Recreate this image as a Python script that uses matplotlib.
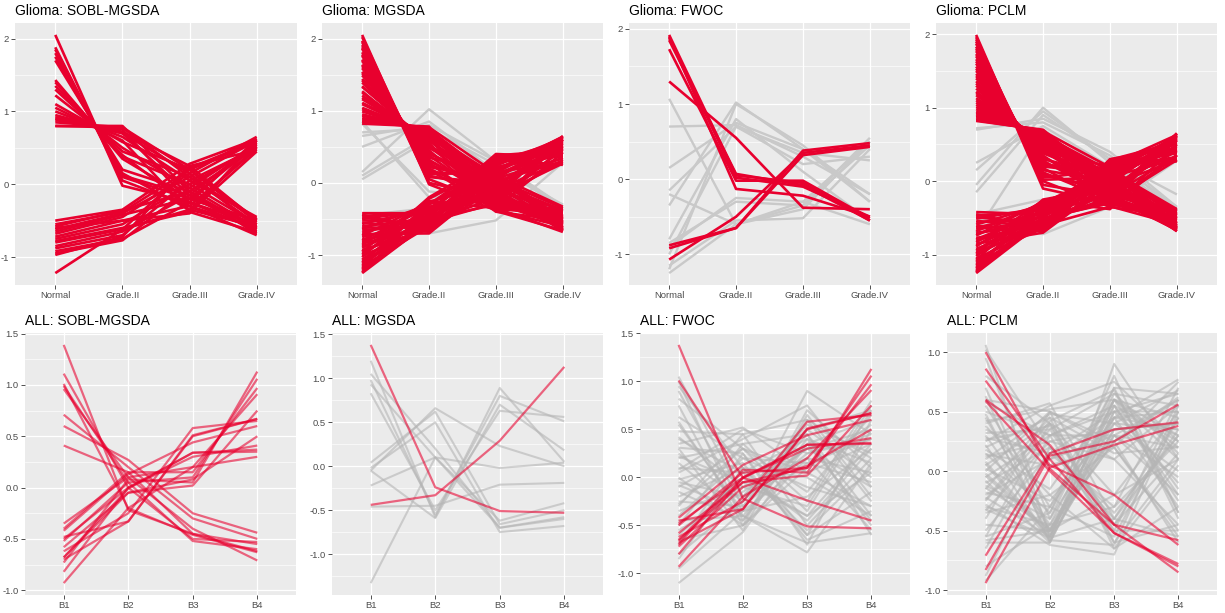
import matplotlib.pyplot as plt
from matplotlib.ticker import MultipleLocator

plt.rcParams['font.family'] = ['Liberation Sans', 'DejaVu Sans']
plt.rcParams['axes.unicode_minus'] = False

grades = ['Normal', 'Grade.II', 'Grade.III', 'Grade.IV']
blocks = ['B1', 'B2', 'B3', 'B4']

# ---- Glioma: SOBL-MGSDA (selected rows only) ----
g_sobl_red = [
    [2.05, -0.02, -0.25, -0.55], [1.88, 0.05, -0.30, -0.60], [1.85, 0.10, -0.20, -0.50],
    [1.80, 0.12, -0.15, -0.65], [1.75, 0.15, -0.35, -0.58], [1.70, 0.20, -0.10, -0.62],
    [1.43, 0.35, -0.20, -0.50], [1.40, 0.38, 0.00, -0.55], [1.35, 0.40, -0.30, -0.70],
    [1.30, 0.45, 0.10, -0.48], [1.22, 0.50, -0.05, -0.60], [1.10, 0.58, 0.20, -0.52],
    [1.05, 0.60, -0.38, -0.66], [1.00, 0.65, 0.05, -0.45], [0.95, 0.70, -0.15, -0.58],
    [0.92, 0.72, 0.25, -0.50], [0.88, 0.75, -0.25, -0.62], [0.85, 0.78, 0.10, -0.55],
    [0.80, 0.78, 0.20, -0.48], [0.80, 0.80, -0.10, -0.68], [0.90, 0.70, 0.15, -0.60],
    [-0.50, -0.35, 0.28, 0.62], [-0.55, -0.38, 0.20, 0.58], [-0.58, -0.36, -0.10, 0.50],
    [-0.62, -0.40, 0.10, 0.60], [-0.65, -0.42, -0.20, 0.55], [-0.68, -0.45, 0.15, 0.65],
    [-0.72, -0.50, -0.30, 0.48], [-0.75, -0.55, 0.00, 0.52], [-0.78, -0.60, -0.38, 0.45],
    [-0.80, -0.62, 0.22, 0.60], [-0.85, -0.65, -0.15, 0.57], [-0.88, -0.70, 0.05, 0.50],
    [-0.92, -0.75, -0.25, 0.62], [-0.95, -0.77, -0.05, 0.55], [-0.97, -0.72, 0.25, 0.47],
    [-1.22, -0.62, -0.35, 0.52], [-0.60, -0.50, -0.40, 0.60],
]
g_sobl_grey = []

# ---- Glioma: MGSDA ----
g_mgsda_up_normal = [2.05, 2.02, 1.97, 1.95, 1.91, 1.88, 1.86, 1.81, 1.78, 1.76, 1.71, 1.69, 1.64, 1.62, 1.59,
                     1.54, 1.52, 1.49, 1.44, 1.42, 1.39, 1.34, 1.33, 1.27, 1.25, 1.21, 1.18, 1.16, 1.11, 1.09,
                     1.04, 1.02, 0.99, 0.95, 0.93, 0.90, 0.88, 0.86, 0.84, 0.82]
g_mgsda_up_g2 = [-0.02, 0.05, 0.00, 0.10, 0.08, 0.15, 0.12, 0.20, 0.18, 0.25, 0.22, 0.30, 0.28, 0.35, 0.32,
                 0.38, 0.40, 0.42, 0.45, 0.48, 0.50, 0.52, 0.55, 0.50, 0.58, 0.60, 0.62, 0.60, 0.65, 0.66,
                 0.68, 0.70, 0.70, 0.72, 0.73, 0.74, 0.75, 0.76, 0.77, 0.78]
g_mgsda_up_g3 = [-0.38, -0.30, -0.20, -0.10, 0.00, 0.10, 0.15, -0.25, -0.35, -0.05, 0.05, -0.15, -0.40, 0.12,
                 -0.22, -0.28, 0.02, -0.12, -0.32, 0.08, -0.18, -0.08, -0.36, 0.14, -0.02, -0.26, 0.06, -0.14,
                 -0.34, -0.06, 0.10, -0.24, -0.16, 0.00, -0.30, 0.04, -0.20, -0.10, 0.13, -0.39]
g_mgsda_up_g4 = [-0.60, -0.50, -0.45, -0.65, -0.38, -0.55, -0.62, -0.42, -0.68, -0.48, -0.35, -0.58, -0.52,
                 -0.66, -0.40, -0.60, -0.46, -0.63, -0.36, -0.54, -0.50, -0.67, -0.44, -0.57, -0.39, -0.61,
                 -0.49, -0.64, -0.43, -0.56, -0.33, -0.59, -0.47, -0.65, -0.41, -0.53, -0.62, -0.37, -0.51, -0.66]
g_mgsda_lo_normal = [-0.42, -0.44, -0.46, -0.48, -0.50, -0.52, -0.55, -0.57, -0.60, -0.62, -0.64, -0.66, -0.69,
                     -0.71, -0.73, -0.75, -0.78, -0.80, -0.82, -0.84, -0.86, -0.88, -0.90, -0.93, -0.95, -0.97,
                     -0.99, -1.01, -1.03, -1.06, -1.08, -1.10, -1.12, -1.14, -1.16, -1.18, -1.20, -1.22, -1.24, -1.25]
g_mgsda_lo_g2 = [-0.42, -0.68, -0.40, -0.60, -0.38, -0.55, -0.65, -0.35, -0.50, -0.62, -0.30, -0.58, -0.45,
                 -0.70, -0.28, -0.52, -0.66, -0.33, -0.48, -0.60, -0.25, -0.56, -0.40, -0.64, -0.22, -0.50,
                 -0.36, -0.62, -0.20, -0.46, -0.58, -0.30, -0.54, -0.42, -0.60, -0.26, -0.50, -0.56, -0.35, -0.55]
g_mgsda_lo_g3 = [0.38, 0.25, -0.10, 0.10, 0.30, -0.20, 0.00, 0.20, -0.30, 0.15, 0.35, -0.05, 0.22, 0.05, -0.25,
                 0.28, 0.12, -0.15, 0.32, 0.08, -0.35, 0.18, 0.40, -0.08, 0.26, 0.02, -0.22, 0.14, 0.34, -0.12,
                 0.06, 0.24, -0.28, 0.16, 0.36, -0.02, 0.10, 0.30, -0.18, 0.20]
g_mgsda_lo_g4 = [0.45, 0.62, 0.30, 0.55, 0.40, 0.65, 0.35, 0.50, 0.60, 0.28, 0.48, 0.58, 0.38, 0.63, 0.32, 0.52,
                 0.44, 0.60, 0.25, 0.56, 0.42, 0.64, 0.36, 0.50, 0.58, 0.30, 0.46, 0.62, 0.40, 0.54, 0.34, 0.60,
                 0.48, 0.64, 0.38, 0.52, 0.44, 0.58, 0.27, 0.50]
g_mgsda_grey = [
    [0.70, 0.75, 0.25, -0.35], [0.65, 0.80, 0.30, -0.32], [0.50, 0.85, 0.15, -0.40],
    [0.15, 1.02, 0.30, -0.35], [0.10, 0.65, 0.10, 0.25], [0.05, 0.60, 0.20, -0.30],
    [0.82, -0.12, -0.20, -0.35], [0.85, -0.20, -0.15, -0.40], [-0.45, -0.35, -0.10, -0.30],
    [-0.60, -0.70, -0.52, 0.28],
]

# ---- Glioma: FWOC ----
g_fwoc_red = [
    [1.92, 0.05, -0.05, -0.55], [1.88, 0.02, -0.10, -0.50], [1.73, -0.02, -0.02, -0.52],
    [1.30, 0.55, -0.38, -0.40], [1.90, -0.13, -0.22, -0.50], [1.85, 0.07, -0.08, -0.55],
    [-0.88, -0.65, 0.38, 0.48], [-0.92, -0.65, 0.32, 0.43], [-1.07, -0.50, 0.35, 0.45],
]
g_fwoc_grey = [
    [1.07, -0.60, -0.30, 0.50], [0.70, 0.72, 0.30, -0.20], [0.15, 0.75, 0.40, -0.30],
    [-0.15, 0.70, 0.20, 0.30], [-0.20, -0.60, -0.35, 0.45], [-0.35, 1.02, 0.40, -0.20],
    [-0.80, 0.80, 0.10, -0.55], [-0.85, -0.30, -0.35, 0.55], [-0.90, -0.25, -0.30, -0.60],
    [-1.00, 0.70, 0.35, 0.25], [-1.15, -0.55, -0.52, 0.40], [-1.20, 1.00, 0.45, -0.30],
    [-1.25, -0.60, -0.40, 0.50],
]

# ---- Glioma: PCLM ----
g_pclm_up_normal = [1.99, 1.96, 1.93, 1.90, 1.87, 1.83, 1.80, 1.77, 1.73, 1.70, 1.66, 1.63, 1.60, 1.56, 1.53,
                    1.50, 1.46, 1.43, 1.40, 1.36, 1.33, 1.30, 1.26, 1.22, 1.20, 1.17, 1.13, 1.10, 1.07, 1.04,
                    1.01, 0.98, 0.95, 0.93, 0.91, 0.89, 0.87, 0.85, 0.83, 0.82]
g_pclm_up_g2 = [-0.10, -0.05, 0.02, 0.00, 0.08, 0.05, 0.12, 0.15, 0.10, 0.20, 0.18, 0.25, 0.22, 0.28, 0.30,
                0.33, 0.35, 0.38, 0.40, 0.42, 0.45, 0.44, 0.48, 0.50, 0.52, 0.50, 0.55, 0.56, 0.58, 0.60,
                0.60, 0.62, 0.64, 0.63, 0.65, 0.66, 0.67, 0.68, 0.69, 0.70]
g_pclm_up_g3 = [-0.30, -0.20, 0.05, -0.35, -0.10, 0.15, -0.25, 0.00, -0.15, 0.10, -0.32, -0.05, 0.18, -0.22,
                0.08, -0.12, -0.28, 0.03, 0.20, -0.18, -0.08, 0.12, -0.34, -0.02, 0.06, -0.26, 0.16, -0.14,
                -0.04, 0.09, -0.30, 0.01, -0.20, 0.14, -0.10, -0.24, 0.04, 0.19, -0.16, -0.06]
g_pclm_up_g4 = [-0.55, -0.40, -0.65, -0.48, -0.60, -0.38, -0.52, -0.68, -0.45, -0.58, -0.42, -0.63, -0.50,
                -0.66, -0.44, -0.56, -0.39, -0.61, -0.47, -0.67, -0.53, -0.41, -0.59, -0.46, -0.64, -0.49,
                -0.57, -0.43, -0.62, -0.51, -0.38, -0.60, -0.54, -0.65, -0.45, -0.58, -0.40, -0.63, -0.50, -0.68]
g_pclm_lo_normal = [-0.42, -0.45, -0.47, -0.49, -0.51, -0.54, -0.56, -0.59, -0.61, -0.63, -0.65, -0.68, -0.70,
                    -0.72, -0.74, -0.77, -0.79, -0.81, -0.83, -0.85, -0.87, -0.89, -0.92, -0.94, -0.96, -0.98,
                    -1.00, -1.02, -1.05, -1.07, -1.09, -1.11, -1.13, -1.15, -1.17, -1.19, -1.21, -1.23, -1.24, -1.25]
g_pclm_lo_g2 = [-0.45, -0.65, -0.40, -0.58, -0.36, -0.62, -0.50, -0.32, -0.68, -0.44, -0.55, -0.30, -0.60,
                -0.48, -0.28, -0.66, -0.42, -0.52, -0.34, -0.70, -0.46, -0.26, -0.58, -0.40, -0.62, -0.30,
                -0.54, -0.38, -0.64, -0.25, -0.50, -0.44, -0.60, -0.35, -0.56, -0.28, -0.52, -0.42, -0.48, -0.55]
g_pclm_lo_g3 = [0.28, 0.10, -0.20, 0.20, -0.05, 0.30, -0.30, 0.15, 0.00, 0.25, -0.15, 0.05, -0.35, 0.22,
                -0.10, 0.12, 0.27, -0.25, 0.08, -0.02, 0.18, -0.38, 0.02, 0.24, -0.12, 0.14, -0.22, 0.06,
                0.29, -0.08, 0.16, -0.30, 0.10, -0.18, 0.20, 0.04, -0.28, 0.26, -0.04, 0.12]
g_pclm_lo_g4 = [0.50, 0.62, 0.35, 0.58, 0.28, 0.45, 0.65, 0.40, 0.55, 0.30, 0.60, 0.48, 0.36, 0.63, 0.42,
                0.52, 0.27, 0.57, 0.44, 0.64, 0.33, 0.50, 0.60, 0.38, 0.55, 0.46, 0.62, 0.30, 0.53, 0.41,
                0.58, 0.35, 0.47, 0.65, 0.39, 0.56, 0.29, 0.51, 0.61, 0.43]
g_pclm_grey = [
    [0.72, 0.80, 0.35, -0.40], [0.70, 0.85, 0.40, -0.35], [0.25, 0.75, 0.20, -0.38],
    [0.15, 0.95, 0.30, -0.18], [-0.05, 1.00, 0.25, -0.40], [-0.15, 0.90, 0.30, -0.35],
    [-0.45, -0.25, -0.30, 0.30], [-0.50, -0.72, -0.35, 0.28], [-0.70, 0.70, 0.15, -0.42],
]

# ---- ALL: SOBL-MGSDA ----
a_sobl_red = [
    [1.39, -0.22, -0.45, -0.62], [1.11, 0.00, -0.50, -0.53], [1.01, -0.20, -0.46, -0.63],
    [0.99, 0.05, -0.52, -0.60], [0.96, 0.10, -0.40, -0.71], [0.71, 0.20, -0.30, -0.50],
    [0.60, 0.27, -0.25, -0.44], [0.41, 0.15, -0.45, -0.55],
    [-0.35, 0.10, 0.20, 0.91], [-0.40, 0.15, 0.15, 0.97], [-0.42, 0.13, 0.44, 0.60],
    [-0.48, -0.33, 0.51, 0.67], [-0.50, 0.00, 0.34, 0.37], [-0.52, 0.05, 0.10, 1.06],
    [-0.58, -0.05, 0.02, 0.75], [-0.62, -0.25, 0.58, 0.65], [-0.68, -0.01, 0.34, 0.35],
    [-0.70, -0.33, 0.50, 0.67], [-0.73, 0.08, 0.05, 1.13], [-0.82, 0.00, 0.30, 0.41],
    [-0.93, -0.20, 0.20, 0.30], [-0.68, -0.05, 0.08, 0.50],
]
a_sobl_grey = []

# ---- ALL: MGSDA ----
a_mgsda_red = [[1.38, -0.24, -0.51, -0.53], [-0.44, -0.33, 0.29, 1.13]]
a_mgsda_grey = [
    [1.20, -0.58, 0.89, 0.05], [1.05, 0.20, -0.70, -0.58], [0.98, -0.55, 0.80, 0.51],
    [0.93, 0.10, -0.62, -0.42], [0.83, -0.50, 0.63, 0.56], [0.04, 0.62, -0.66, -0.50],
    [-0.02, 0.50, -0.75, -0.68], [-0.05, 0.66, 0.23, 0.00], [-0.05, -0.59, 0.70, 0.18],
    [-0.22, 0.10, -0.02, 0.04], [-0.46, -0.45, -0.21, -0.19], [-1.33, 0.10, -0.70, -0.60],
]

# ---- ALL: FWOC ----
a_fwoc_red = [
    [1.38, -0.22, -0.51, -0.53], [1.01, 0.00, -0.24, -0.45],
    [-0.42, 0.13, 0.44, 0.60], [-0.45, -0.33, 0.51, 0.67], [-0.48, 0.00, 0.34, 0.36],
    [-0.50, 0.05, 0.10, 1.06], [-0.58, -0.05, 0.02, 0.75], [-0.62, -0.25, 0.58, 0.65],
    [-0.65, -0.01, 0.34, 0.35], [-0.68, -0.33, 0.50, 0.67], [-0.70, 0.08, 0.05, 1.13],
    [-0.80, 0.00, 0.30, 0.41], [-0.93, -0.20, 0.20, 0.91], [-0.66, -0.05, 0.10, 0.97],
    [-0.72, -0.10, 0.12, 0.50],
]
a_fwoc_grey = [
    [1.05, -0.20, 0.30, -0.10], [1.00, -0.45, 0.60, 0.20], [0.95, 0.10, -0.60, 0.50],
    [0.90, -0.30, 0.45, -0.40], [0.82, 0.30, -0.35, 0.70], [0.75, -0.50, 0.70, 0.10],
    [0.63, 0.20, -0.10, -0.30], [0.55, -0.35, 0.90, 0.45], [0.48, 0.45, -0.50, 0.20],
    [0.42, -0.10, 0.20, -0.55], [0.35, 0.52, 0.05, 0.35], [0.30, -0.55, 0.65, -0.20],
    [0.31, 0.25, -0.70, 0.60], [0.25, -0.25, 0.50, 0.00], [0.20, 0.35, -0.25, 0.80],
    [0.15, -0.40, 0.35, -0.45], [0.10, 0.05, -0.45, 0.30], [0.05, 0.40, 0.75, -0.10],
    [0.00, -0.50, 0.10, 0.55], [-0.02, 0.15, -0.65, -0.35], [-0.05, -0.20, 0.55, 0.25],
    [-0.10, 0.30, -0.15, 0.65], [-0.15, -0.45, 0.40, -0.50], [-0.20, 0.10, -0.55, 0.10],
    [-0.25, -0.30, 0.25, 0.40], [-0.30, 0.45, 0.60, -0.25], [-0.35, -0.10, -0.30, 0.75],
    [-0.40, 0.20, 0.15, -0.05], [-0.45, -0.40, -0.78, 0.15], [-0.50, 0.35, 0.45, -0.60],
    [-0.55, -0.15, 0.30, 0.50], [-0.60, 0.00, -0.40, 0.35], [-0.65, -0.50, 0.20, 0.05],
    [-0.70, 0.25, -0.60, -0.15], [-0.80, -0.25, 0.50, 0.70], [-0.85, 0.10, 0.00, -0.40],
    [-0.95, -0.35, -0.20, 0.30], [-1.10, -0.57, 0.35, 0.60], [0.58, -0.40, -0.68, -0.58],
    [0.08, 0.50, 0.25, 0.45], [0.40, 0.05, 0.40, 0.15], [-0.08, -0.35, 0.15, 0.40],
    [0.22, -0.05, -0.40, 0.05], [-0.28, 0.30, 0.05, -0.30],
]

# ---- ALL: PCLM ----
a_pclm_red = [
    [1.00, 0.02, -0.45, -0.85], [0.86, 0.10, -0.52, -0.78], [0.76, 0.05, -0.20, -0.62],
    [0.60, 0.22, -0.45, -0.58], [0.59, 0.00, -0.52, -0.80],
    [-0.71, 0.15, 0.35, 0.41], [-0.83, 0.13, 0.25, 0.56], [-0.94, 0.03, 0.22, 0.38],
]
a_pclm_grey = [
    [1.06, -0.55, 0.60, 0.30], [1.02, 0.20, -0.50, 0.60], [0.95, -0.40, 0.45, -0.30],
    [0.80, 0.40, -0.20, 0.50], [0.63, -0.60, 0.90, 0.10], [0.60, 0.50, -0.60, -0.45],
    [0.55, -0.30, 0.70, 0.65], [0.50, 0.30, 0.30, -0.20], [0.45, -0.50, 0.55, 0.25],
    [0.40, 0.57, -0.40, 0.45], [0.38, -0.20, 0.20, -0.55], [0.32, 0.35, 0.65, 0.15],
    [0.30, -0.45, -0.30, 0.70], [0.28, 0.15, 0.50, -0.10], [0.22, -0.58, 0.35, 0.40],
    [0.20, 0.45, -0.65, 0.05], [0.15, -0.35, 0.80, -0.35], [0.12, 0.25, 0.10, 0.55],
    [0.08, -0.55, 0.60, 0.20], [0.05, 0.40, -0.50, -0.50], [0.02, -0.25, 0.40, 0.35],
    [0.00, 0.50, 0.25, 0.60], [-0.02, -0.50, -0.20, 0.10], [-0.05, 0.30, 0.55, -0.25],
    [-0.08, -0.60, 0.45, 0.50], [-0.10, 0.20, -0.35, 0.30], [-0.12, -0.40, 0.70, -0.40],
    [-0.15, 0.45, 0.15, 0.20], [-0.18, -0.30, -0.55, 0.45], [-0.20, 0.10, 0.30, -0.05],
    [-0.22, -0.55, 0.50, 0.65], [-0.25, 0.35, -0.45, 0.15], [-0.30, -0.45, 0.60, -0.15],
    [-0.33, 0.25, 0.35, 0.40], [-0.35, -0.20, -0.65, -0.30], [-0.40, 0.50, 0.20, 0.75],
    [-0.45, -0.50, 0.40, 0.00], [-0.50, 0.15, -0.30, 0.25], [-0.55, -0.35, 0.65, 0.55],
    [-0.55, 0.40, 0.10, -0.45], [-0.60, -0.60, 0.50, 0.30], [-0.65, 0.30, -0.60, 0.10],
    [-0.80, -0.45, 0.30, 0.60], [-0.88, 0.20, -0.40, -0.55], [-0.92, -0.30, 0.45, 0.35],
    [0.70, -0.50, 0.25, -0.60], [0.25, 0.55, 0.75, 0.25], [-0.28, -0.62, -0.70, 0.50],
    [0.35, 0.10, 0.45, 0.77], [0.18, -0.15, 0.60, 0.45], [0.48, -0.55, 0.30, 0.20],
    [0.10, 0.48, 0.40, 0.68], [-0.04, -0.52, 0.55, -0.20], [0.26, 0.38, -0.45, 0.35],
    [-0.14, -0.48, 0.25, 0.62], [0.42, 0.52, 0.60, 0.10], [-0.32, -0.56, -0.40, 0.30],
    [0.58, 0.30, 0.50, 0.50], [-0.24, 0.42, 0.68, -0.35], [0.06, -0.58, -0.62, 0.55],
    [-0.58, -0.50, 0.35, 0.40], [0.14, 0.05, 0.20, -0.50],
]

g_mgsda_red = (list(zip(g_mgsda_up_normal, g_mgsda_up_g2, g_mgsda_up_g3, g_mgsda_up_g4))
               + list(zip(g_mgsda_lo_normal, g_mgsda_lo_g2, g_mgsda_lo_g3, g_mgsda_lo_g4)))
g_pclm_red = (list(zip(g_pclm_up_normal, g_pclm_up_g2, g_pclm_up_g3, g_pclm_up_g4))
              + list(zip(g_pclm_lo_normal, g_pclm_lo_g2, g_pclm_lo_g3, g_pclm_lo_g4)))

RED = '#E8002E'
W, H = 1225, 613
fig = plt.figure(figsize=(W / 100, H / 100), dpi=100)


def panel(box, title, cats, red, grey, major, minor, top_row):
    left, top, right, bottom = box
    ax = fig.add_axes([left / W, 1 - bottom / H, (right - left) / W, (bottom - top) / H])
    ax.set_facecolor('#EBEBEB')
    for s in ax.spines.values():
        s.set_visible(False)
    x = range(len(cats))
    if top_row:
        for row in grey:
            ax.plot(x, row, color='#C9C9C9', lw=1.7, solid_capstyle='butt')
        for row in red:
            ax.plot(x, row, color=RED, lw=1.9, solid_capstyle='butt')
    else:
        for row in grey:
            ax.plot(x, row, color='#B5B5B5', alpha=0.6, lw=1.5, solid_capstyle='butt')
        for row in red:
            ax.plot(x, row, color=RED, alpha=0.58, lw=1.6, solid_capstyle='butt')
    vals = [v for row in list(red) + list(grey) for v in row]
    lo, hi = min(vals), max(vals)
    pad = (hi - lo) * 0.05
    ax.set_ylim(lo - pad, hi + pad)
    ax.set_xlim(-0.6, len(cats) - 0.4)
    ax.set_xticks(list(x))
    ax.set_xticklabels(cats)
    ax.yaxis.set_major_locator(MultipleLocator(major))
    ax.yaxis.set_minor_locator(MultipleLocator(minor))
    if not top_row:
        ax.yaxis.set_major_formatter(plt.FormatStrFormatter('%.1f'))
    else:
        ax.yaxis.set_major_formatter(plt.FormatStrFormatter('%d'))
    ax.set_axisbelow(True)
    ax.grid(which='major', color='white', lw=0.9)
    ax.grid(which='minor', axis='y', color='white', lw=0.45)
    ax.tick_params(which='major', length=2.6, width=0.6, color='#333333',
                   labelsize=6.8, labelcolor='#4D4D4D', pad=2)
    ax.tick_params(which='minor', length=0)
    ax.set_title(title, loc='left', fontsize=10, pad=5.5, color='black')
    return ax


top_boxes = [(15, 23, 297, 285), (322, 23, 603, 285), (629, 23, 910, 285), (936, 23, 1217, 285)]
bot_boxes = [(25, 333, 296, 595), (332, 333, 603, 595), (640, 333, 910, 595), (947, 333, 1217, 595)]

panel(top_boxes[0], 'Glioma: SOBL-MGSDA', grades, g_sobl_red, g_sobl_grey, 1, 0.5, True)
panel(top_boxes[1], 'Glioma: MGSDA', grades, g_mgsda_red, g_mgsda_grey, 1, 0.5, True)
panel(top_boxes[2], 'Glioma: FWOC', grades, g_fwoc_red, g_fwoc_grey, 1, 0.5, True)
panel(top_boxes[3], 'Glioma: PCLM', grades, g_pclm_red, g_pclm_grey, 1, 0.5, True)

panel(bot_boxes[0], 'ALL: SOBL-MGSDA', blocks, a_sobl_red, a_sobl_grey, 0.5, 0.25, False)
panel(bot_boxes[1], 'ALL: MGSDA', blocks, a_mgsda_red, a_mgsda_grey, 0.5, 0.25, False)
panel(bot_boxes[2], 'ALL: FWOC', blocks, a_fwoc_red, a_fwoc_grey, 0.5, 0.25, False)
panel(bot_boxes[3], 'ALL: PCLM', blocks, a_pclm_red, a_pclm_grey, 0.5, 0.25, False)

fig.savefig('out.png', dpi=100)
